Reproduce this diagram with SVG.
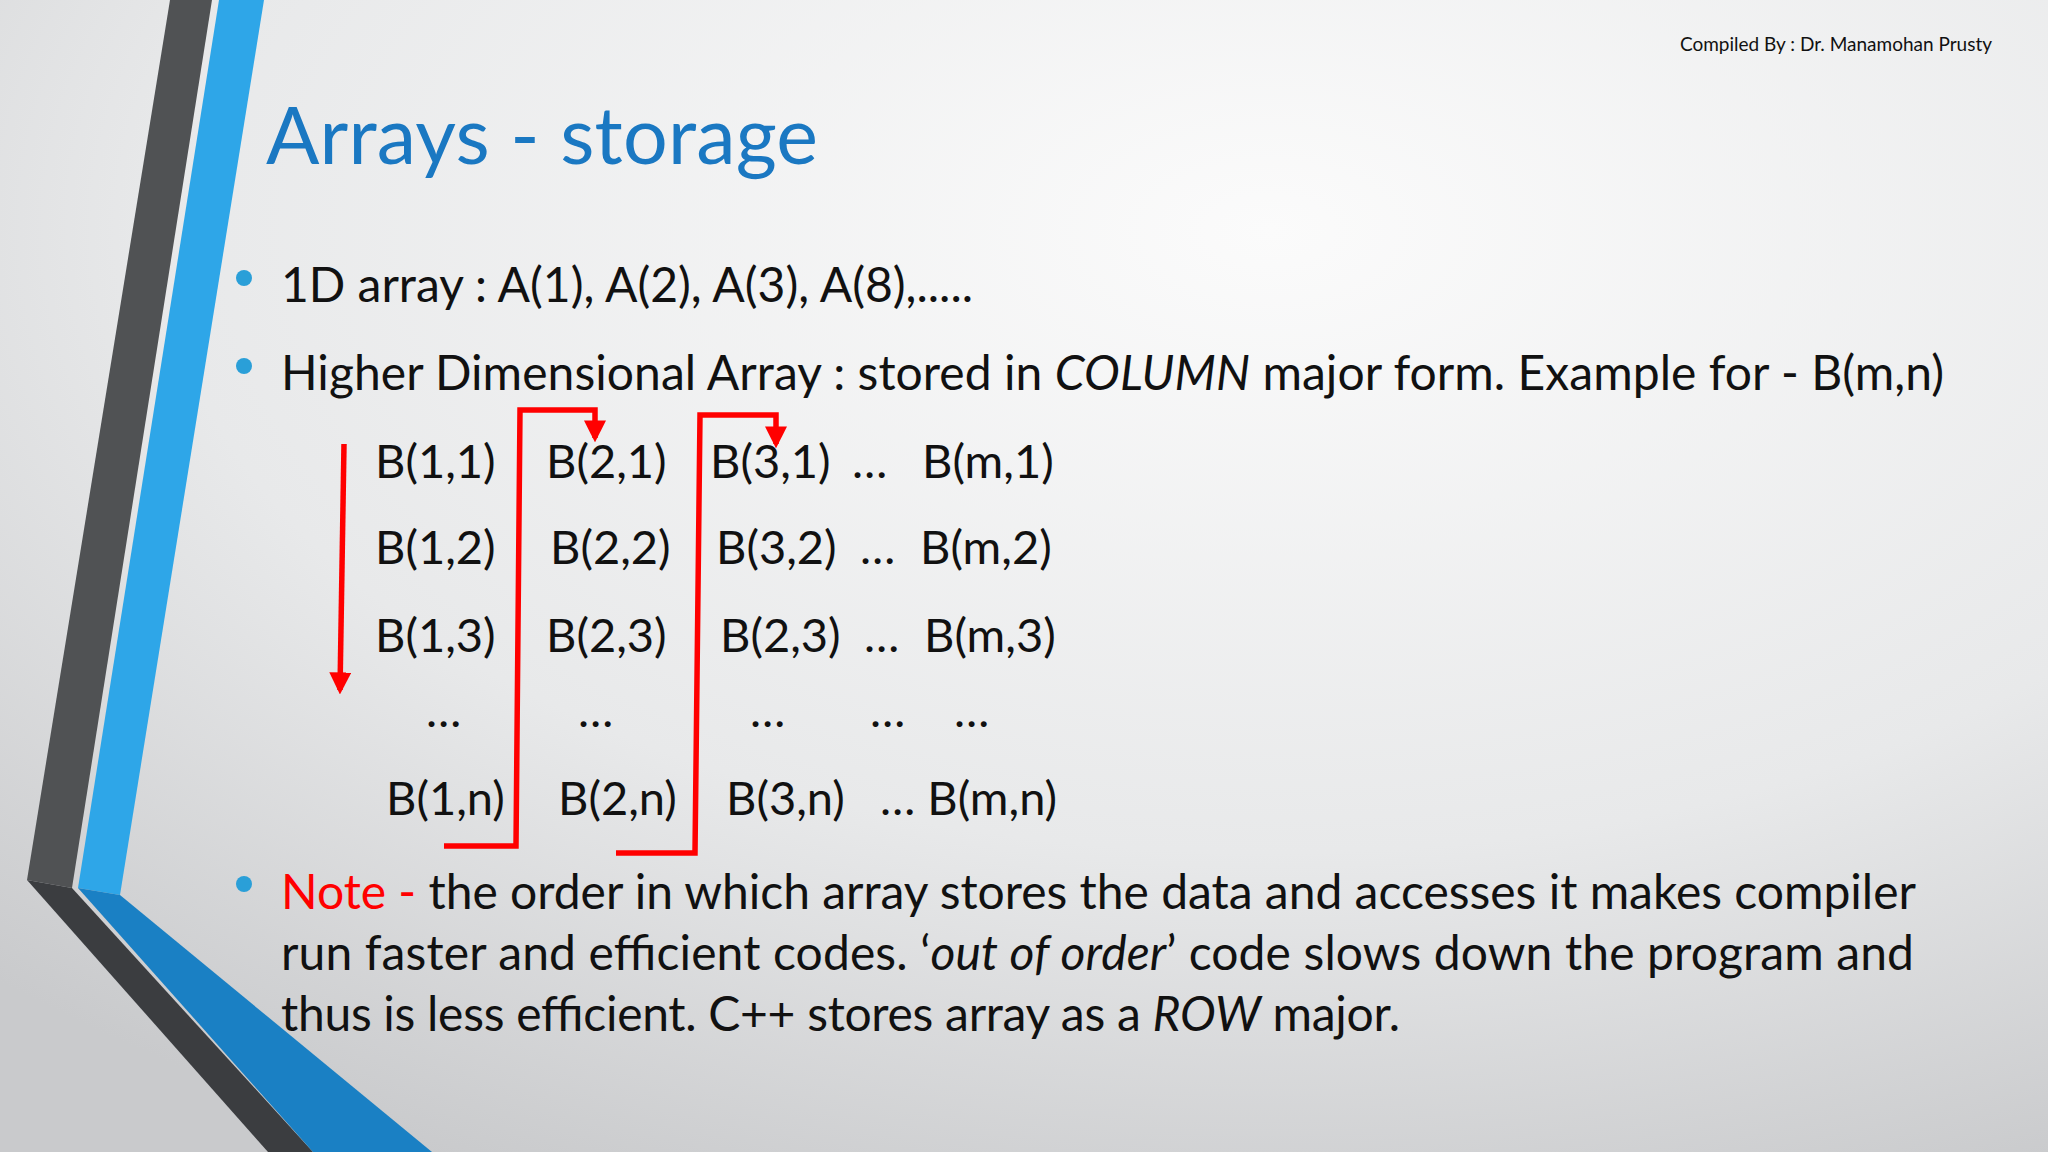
<svg xmlns="http://www.w3.org/2000/svg" width="2048" height="1152" viewBox="0 0 2048 1152">
<defs>
<radialGradient id="bg" cx="0.62" cy="0.2" r="0.9">
<stop offset="0" stop-color="#fbfbfb"/><stop offset="0.6" stop-color="#e8e9ea"/><stop offset="1" stop-color="#c9cacc"/>
</radialGradient>
<marker id="ah" viewBox="0 0 10 10" refX="8" refY="5" markerWidth="4" markerHeight="4" orient="auto"><path d="M0,0 L10,5 L0,10 z" fill="#ff0000"/></marker>
</defs>
<style>
.t{font-family:Lato,"Open Sans",sans-serif;fill:#111;font-size:48px}
.m{font-family:Lato,"Open Sans",sans-serif;fill:#111;font-size:47px}
.r{fill:none;stroke:#ff0000;stroke-width:5.5;marker-end:url(#ah)}
.b{fill:#2a9fd8}
</style>
<rect width="2048" height="1152" fill="url(#bg)"/>
<g id="decor">
<polygon points="170,0 212,0 72,888 27,880" fill="#505254"/>
<polygon points="219,0 264,0 120,895 78,888" fill="#2ea6e8"/>
<polygon points="27,880 72,888 313,1152 268,1152" fill="#3b3d40"/>
<polygon points="78,888 120,895 432,1152 313,1152" fill="#1a80c4"/>
</g>
<text x="1992" y="51" text-anchor="end" font-family="Lato,'Open Sans',sans-serif" font-size="19" fill="#111">Compiled By : Dr. Manamohan Prusty</text>
<text x="266" y="164" font-family="Lato,'Open Sans',sans-serif" font-size="79" fill="#1a78c2" textLength="552">Arrays - storage</text>
<circle class="b" cx="244" cy="278" r="8"/>
<circle class="b" cx="244" cy="366" r="8"/>
<circle class="b" cx="244" cy="884" r="8"/>
<text class="t" x="281" y="302" textLength="692">1D array : A(1), A(2), A(3), A(8),.....</text>
<text class="t" x="281" y="390" textLength="1663">Higher Dimensional Array : stored in <tspan font-style="italic">COLUMN</tspan> major form. Example for - B(m,n)</text>
<g id="matrix">
<text class="m" x="375" y="478">B(1,1)</text><text class="m" x="546" y="478">B(2,1)</text><text class="m" x="710" y="478">B(3,1)</text><text class="m" x="852" y="478">…</text><text class="m" x="922" y="478">B(m,1)</text>
<text class="m" x="375" y="564">B(1,2)</text><text class="m" x="550" y="564">B(2,2)</text><text class="m" x="716" y="564">B(3,2)</text><text class="m" x="860" y="564">…</text><text class="m" x="920" y="564">B(m,2)</text>
<text class="m" x="375" y="652">B(1,3)</text><text class="m" x="546" y="652">B(2,3)</text><text class="m" x="720" y="652">B(2,3)</text><text class="m" x="864" y="652">…</text><text class="m" x="924" y="652">B(m,3)</text>
<text class="m" x="426" y="727">…</text><text class="m" x="578" y="727">…</text><text class="m" x="750" y="727">…</text><text class="m" x="870" y="727">…</text><text class="m" x="954" y="727">…</text>
<text class="m" x="386" y="815">B(1,n)</text><text class="m" x="558" y="815">B(2,n)</text><text class="m" x="726" y="815">B(3,n)</text><text class="m" x="880" y="815">… B(m,n)</text>
</g>
<g id="connectors">
<path class="r" d="M344,444 L340,690"/>
<path class="r" d="M444,846 L516,846 L520,410 L595,410 L595,438"/>
<path class="r" d="M616,853 L695,853 L700,415 L776,415 L776,444"/>
</g>
<text class="t" x="281" y="909" textLength="1635"><tspan fill="#ff0000">Note - </tspan>the order in which array stores the data and accesses it makes compiler</text>
<text class="t" x="281" y="970" textLength="1633">run faster and efficient codes. ‘<tspan font-style="italic">out of order</tspan>’ code slows down the program and</text>
<text class="t" x="281" y="1031" textLength="1119">thus is less efficient. C++ stores array as a <tspan font-style="italic">ROW</tspan> major.</text>
</svg>
